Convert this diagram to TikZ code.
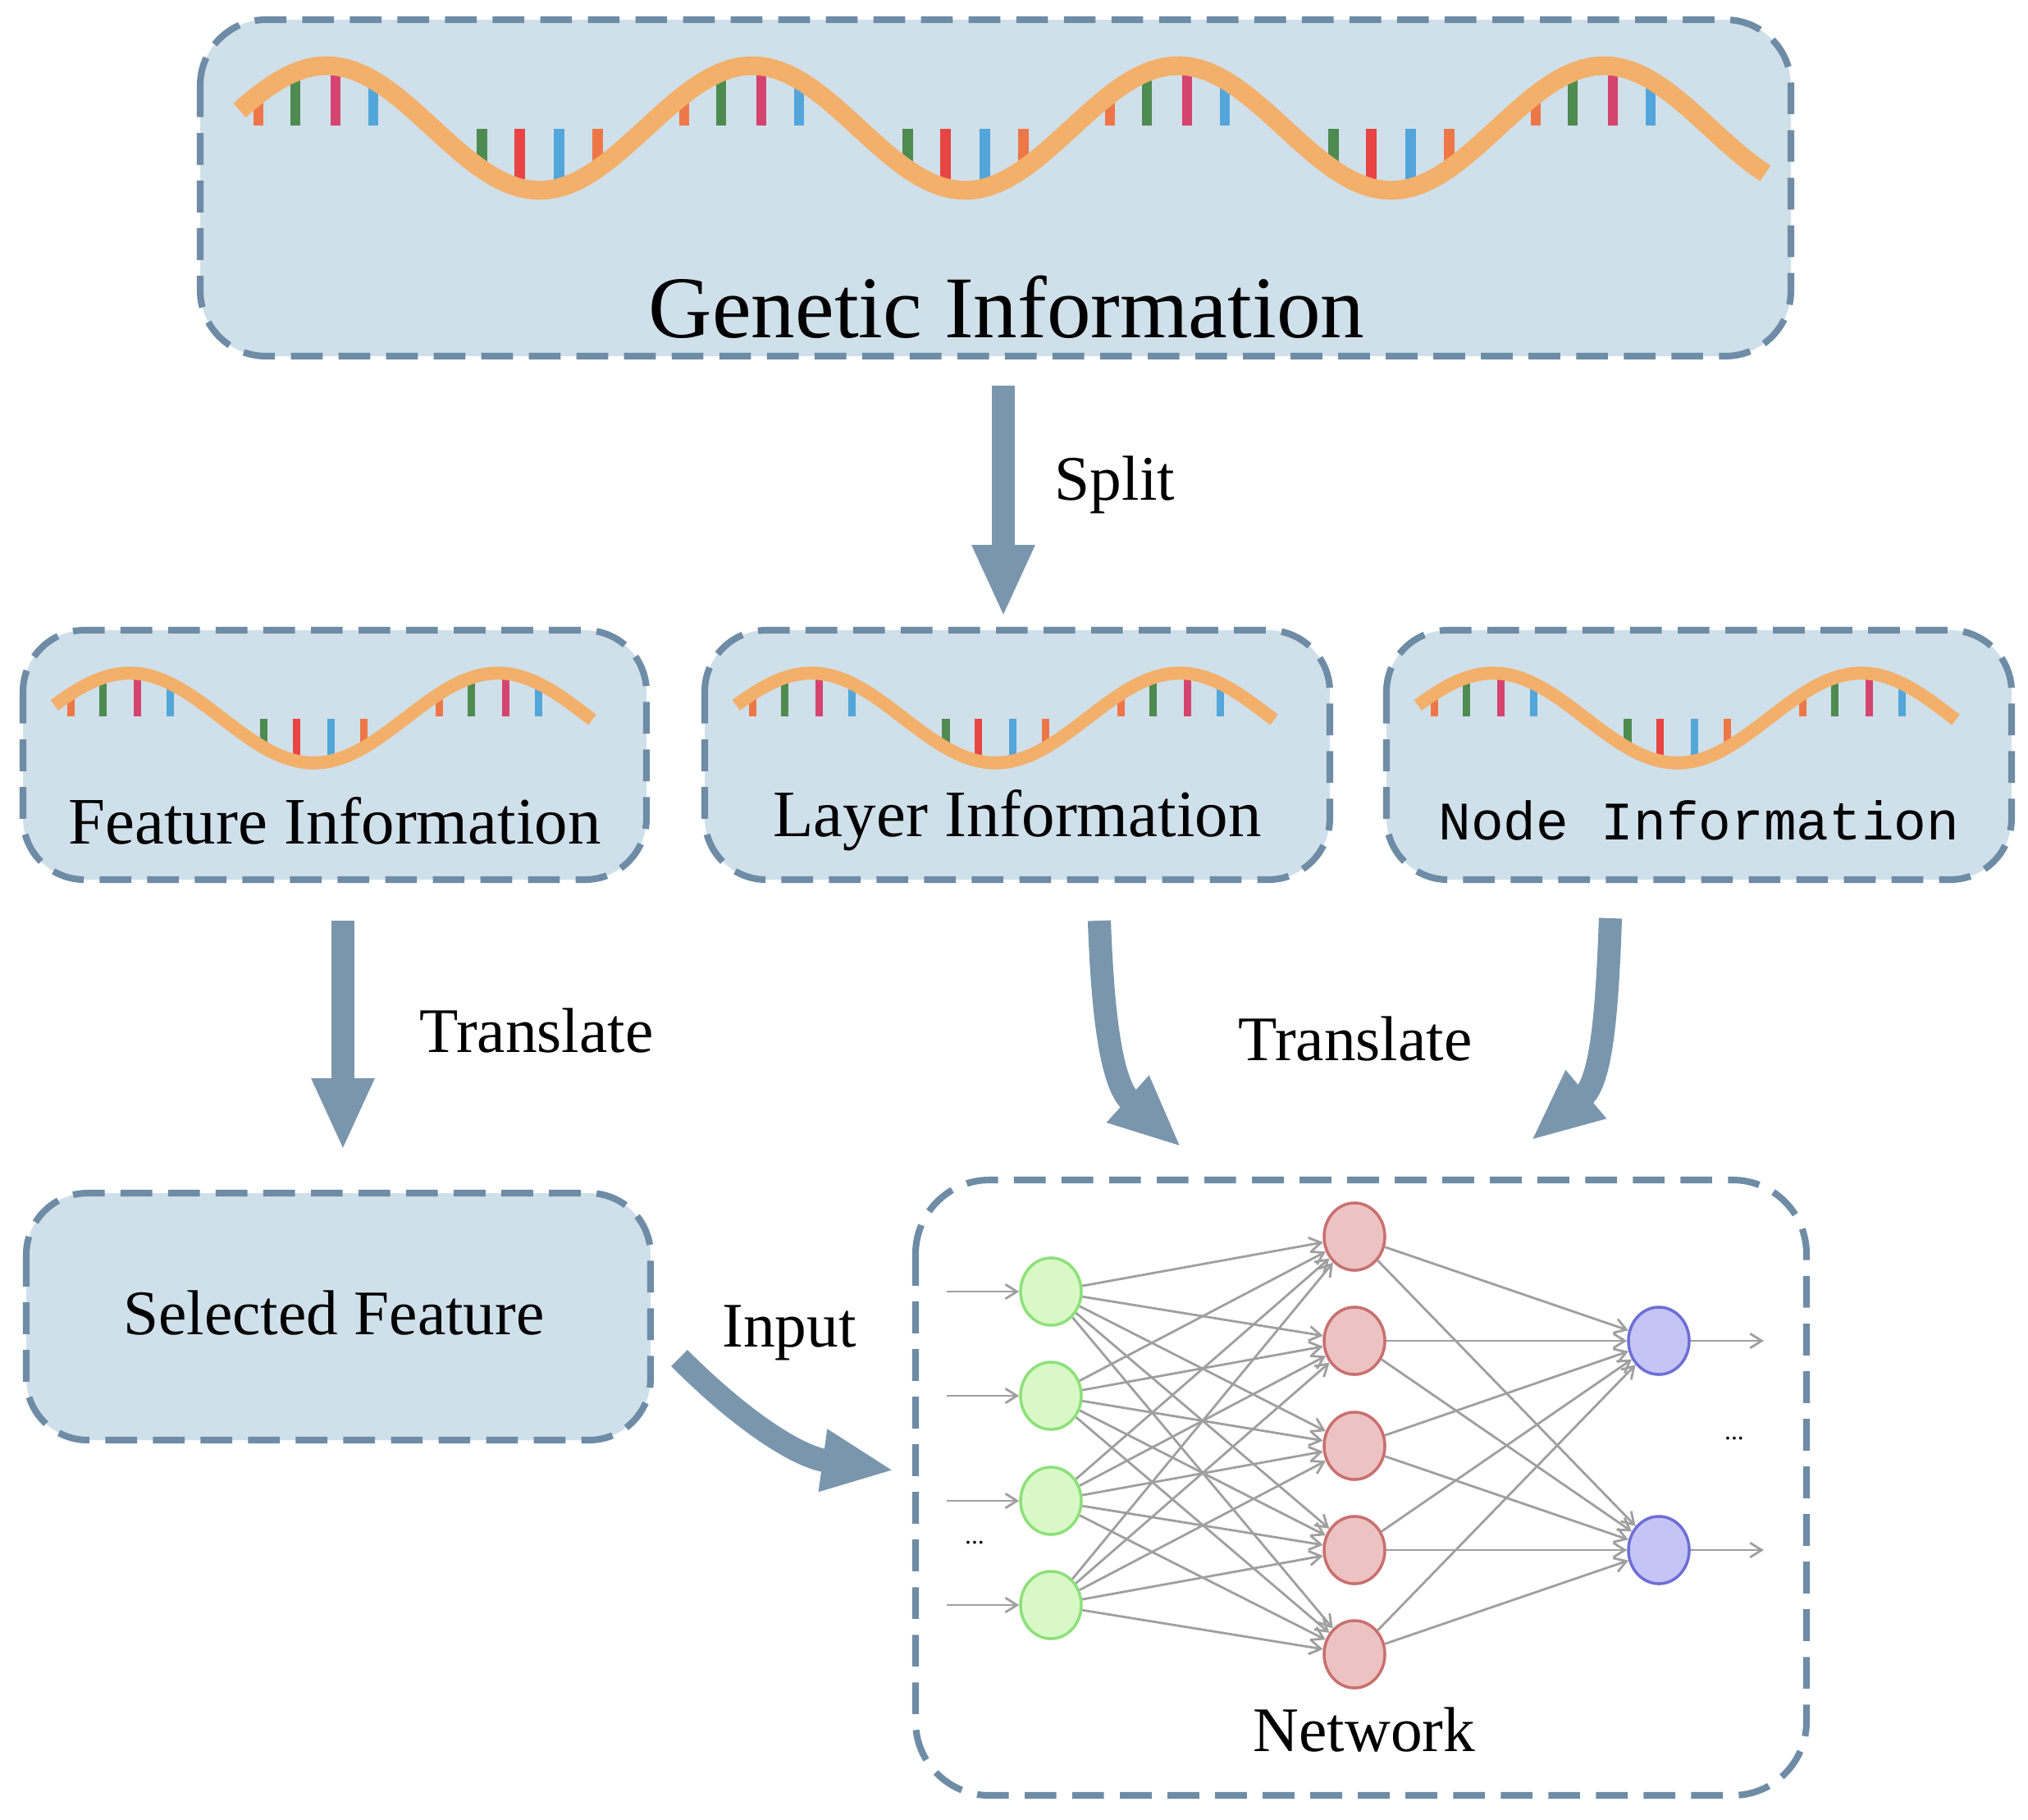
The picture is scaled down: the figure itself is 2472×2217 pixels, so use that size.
\documentclass[tikz,border=0pt]{standalone}
\usepackage{fontspec}
\setmainfont{Liberation Serif}
\newfontfamily\monof{Liberation Mono}
\usetikzlibrary{arrows.meta,shapes.geometric}
\definecolor{boxfill}{HTML}{D0E0EA}
\definecolor{boxdraw}{HTML}{6E8CA5}
\definecolor{arr}{HTML}{7A96AD}
\definecolor{strandc}{HTML}{F2B06B}
\definecolor{dnaO}{HTML}{EE7748}
\definecolor{dnaG}{HTML}{4E8B50}
\definecolor{dnaM}{HTML}{D5446E}
\definecolor{dnaB}{HTML}{52A6D9}
\definecolor{dnaR}{HTML}{E84444}
\definecolor{gfill}{HTML}{D8F8C6}
\definecolor{gdraw}{HTML}{8EE07A}
\definecolor{rfill}{HTML}{EDC2C2}
\definecolor{rdraw}{HTML}{C87070}
\definecolor{bfill}{HTML}{C4C4F6}
\definecolor{bdraw}{HTML}{6E6ED6}
\tikzset{
 box/.style={draw=boxdraw,fill=boxfill,line width=2.3pt,dash pattern=on 11pt off 5.5pt,rounded corners=0.8cm},
 bigarrow/.style={draw=arr,line width=8pt,-{Triangle[length=25pt,width=20pt]}},
 lbl/.style={font=\fontsize{22}{26}\selectfont},
 edge/.style={draw=gray!75,line width=0.8pt,-{Straight Barb[length=4pt,width=5pt]}},
 gn/.style={ellipse,minimum width=0.74cm,minimum height=0.82cm,draw=gdraw,fill=gfill,line width=1pt,inner sep=0pt},
 rn/.style={ellipse,minimum width=0.74cm,minimum height=0.82cm,draw=rdraw,fill=rfill,line width=1pt,inner sep=0pt},
 bn/.style={ellipse,minimum width=0.74cm,minimum height=0.82cm,draw=bdraw,fill=bfill,line width=1pt,inner sep=0pt},
}
% #1 x of first peak, #2 y of centre line (pixels, down), #3 xscale, #4 yscale, #5 peaks, #6 tail, #7 strand width, #8 bar width
\newcommand{\mydna}[8]{%
\begin{scope}[shift={(#1,-#2)},xscale=#3,yscale=#4]
 \foreach \k in {1,...,#5}{%
  \pgfmathsetmacro{\px}{(\k-1)*519}
  \foreach \o/\c in {-83/dnaO,-38/dnaG,11/dnaM,57/dnaB}{%
   \draw[\c,line width=#8] (\px+\o,{76*cos(0.69364*\o)}) -- (\px+\o,3);}
 }
 \pgfmathtruncatemacro{\nt}{#5-1}
 \foreach \k in {1,...,\nt}{%
  \pgfmathsetmacro{\tx}{(\k-1)*519+259.5}
  \foreach \o/\c in {-70/dnaG,-24/dnaR,24/dnaB,71/dnaO}{%
   \draw[\c,line width=#8] (\tx+\o,-1) -- (\tx+\o,{-76*cos(0.69364*\o)});}
 }
 \pgfmathsetmacro{\xe}{(#5-1)*519+#6}
 \draw[strandc,line width=#7] plot[domain=-106:\xe,samples=160] (\x,{76*cos(0.69364*\x)});
\end{scope}}
\begin{document}
\begin{tikzpicture}[x=0.01cm,y=0.01cm]
\useasboundingbox (0,0) rectangle (2472,-2217);
% boxes
\draw[box] (244,-24) rectangle (2183,-434);
\node (gen) at (1227,-374) [font=\fontsize{30.5}{36}\selectfont] {Genetic Information};
\mydna{398}{156}{1}{1}{4}{197}{6.5pt}{3.6pt}

\draw[box,rounded corners=0.75cm] (28,-768) rectangle (788,-1072);
\draw[box,rounded corners=0.75cm] (859,-768) rectangle (1621,-1072);
\draw[box,rounded corners=0.75cm] (1690,-768) rectangle (2452,-1072);
\mydna{158}{875}{0.865}{0.72}{2}{133}{4.5pt}{2.6pt}
\mydna{989}{875}{0.865}{0.72}{2}{133}{4.5pt}{2.6pt}
\mydna{1820}{875}{0.865}{0.72}{2}{133}{4.5pt}{2.6pt}
\node (feat) at (408,-1000) [font=\fontsize{23}{27}\selectfont] {Feature Information};
\node (lay) at (1240,-1000) [font=\fontsize{23}{27}\selectfont] {Layer Information};
\node (nod) at (2071,-1000) [font=\fontsize{18.8}{24}\selectfont\monof] {Node Information};

\draw[box,rounded corners=0.75cm] (32,-1454) rectangle (793,-1755);
\node (sel) at (407,-1600) [lbl] {Selected Feature};

\draw[box,fill=none,rounded corners=0.9cm] (1116,-1438) rectangle (2202,-2188);
\node (net) at (1663,-2108) [lbl] {Network};

% big arrows
\coordinate (s1) at (1223,-470); \coordinate (s2) at (1223,-752);
\draw[bigarrow] (s1) -- (s2);
\node (split) at (1359,-591) [lbl] {Split};
\coordinate (t1) at (418,-1122); \coordinate (t2) at (418,-1402);
\draw[bigarrow] (t1) -- (t2);
\node (tr1) at (654,-1256) [lbl] {Translate};
\coordinate (c1) at (1340,-1122); \coordinate (c2) at (1440,-1398);
\draw[bigarrow] (c1) to[out=-88,in=138] (c2);
\coordinate (d1) at (1963,-1119); \coordinate (d2) at (1866,-1390);
\draw[bigarrow] (d1) to[out=-92,in=40] (d2);
\node (tr2) at (1652,-1266) [lbl] {Translate};
\coordinate (i1) at (828,-1655); \coordinate (i2) at (1090,-1792);
\draw[bigarrow] (i1) to[out=-45,in=172] (i2);
\node (inp) at (962,-1624) [lbl] {Input};

% network
\foreach \i/\y in {1/1574,2/1701,3/1829,4/1956}{\node[gn] (g\i) at (1281,-\y) {};}
\foreach \i/\y in {1/1507,2/1634,3/1762,4/1889,5/2016}{\node[rn] (r\i) at (1651,-\y) {};}
\foreach \i/\y in {1/1634,2/1889}{\node[bn] (b\i) at (2022,-\y) {};}
\foreach \i in {1,...,4}{\foreach \j in {1,...,5}{\draw[edge] (g\i) -- (r\j);}}
\foreach \i in {1,...,5}{\foreach \j in {1,2}{\draw[edge] (r\i) -- (b\j);}}
\foreach \i/\y in {1/1574,2/1701,3/1829,4/1956}{
 \coordinate (in\i) at (1154,-\y);
 \draw[edge] (in\i) -- (g\i);}
\foreach \i/\y in {1/1634,2/1889}{
 \coordinate (out\i) at (2150,-\y);
 \draw[edge] (b\i) -- (out\i);}
\node (dl) at (1188,-1880) [font=\small] {...};
\node (dr) at (2114,-1753) [font=\small] {...};
\end{tikzpicture}
\end{document}
